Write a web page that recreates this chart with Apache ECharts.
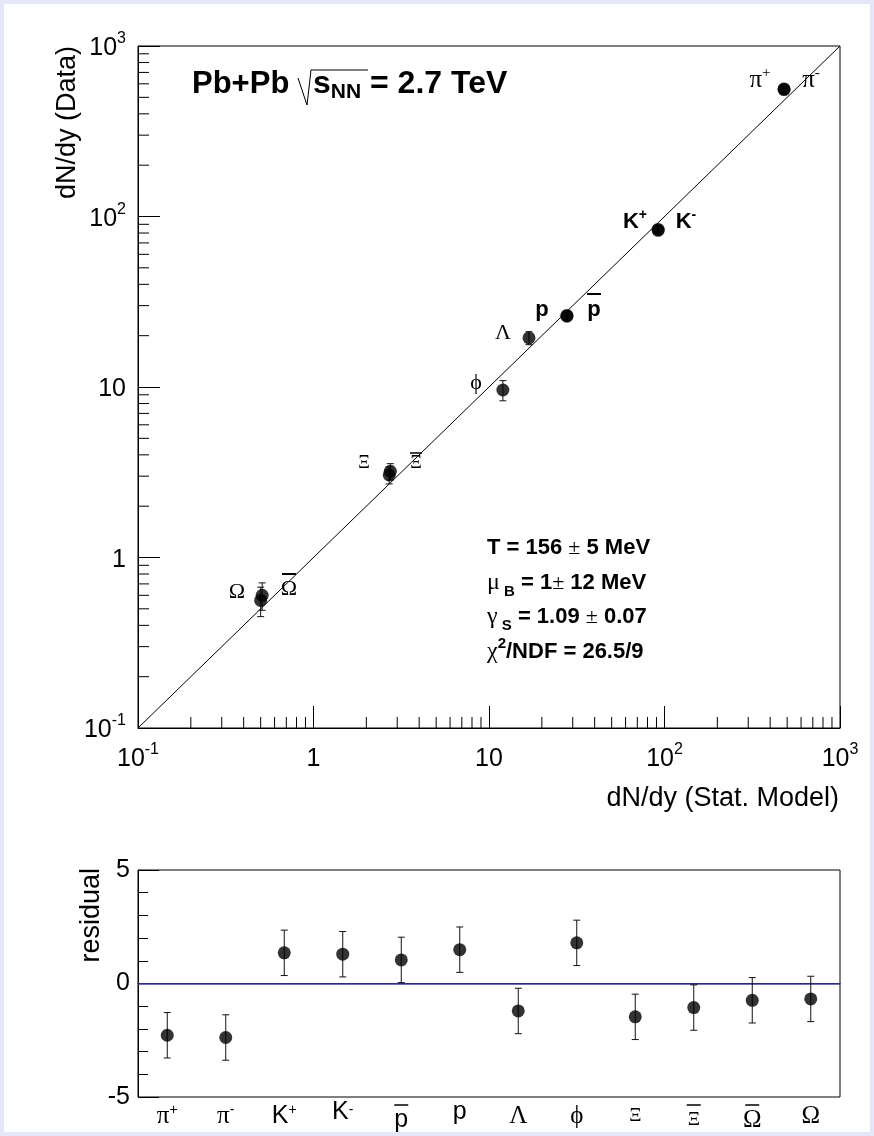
<!DOCTYPE html>
<html>
<head>
<meta charset="utf-8">
<script src="https://cdn.jsdelivr.net/npm/echarts@6/dist/echarts.min.js"></script>
<style>
html,body{margin:0;padding:0;background:#e6e6fa;}
#pad{position:absolute;left:4px;top:4px;width:866px;height:1128px;background:#fff;}
#chart{position:absolute;left:0;top:0;width:874px;height:1136px;}
</style>
</head>
<body>
<div id="pad"></div>
<div id="chart"></div>
<script>
// ---------------- data ----------------
const particles = ['pi+','pi-','K+','K-','pbar','p','Lambda','phi','Xi','Xibar','Omegabar','Omega'];
const modelYield = [480, 480, 92, 92, 27.8, 27.8, 16.9, 12.0, 2.70, 2.74, 0.50, 0.51];
const dataYield  = [560, 555, 84, 83, 26.0, 26.3, 19.4, 9.6, 3.05, 3.2, 0.56, 0.60];
const dataErr    = [25, 25, 4, 4, 1.5, 1.5, 1.7, 1.3, 0.35, 0.35, 0.11, 0.11];
const residual   = [-2.28, -2.38, 1.35, 1.29, 1.04, 1.49, -1.21, 1.79, -1.47, -1.06, -0.74, -0.68];
const residualErr= [1, 1, 1, 1, 1, 1, 1, 1, 1, 1, 1, 1];
const diagonal   = [[0.1, 0.1], [1000, 1000]];
const minorTickValues = [0.2,0.3,0.4,0.5,0.6,0.7,0.8,0.9, 2,3,4,5,6,7,8,9, 20,30,40,50,60,70,80,90, 200,300,400,500,600,700,800,900];
const catLabels = ['{gs|π}{sup|+}','{gs|π}{supH|-}','{h|K}{sup|+}','{hH|K}{supH|-}','{bar| }\n{h|p}','{hH|p}','{gs|Λ}','{gs|ϕ}','{gsm|Ξ}','{bar| }\n{gsm|Ξ}','{bar| }\n{gs|Ω}','{gs|Ω}'];

// ---------------- helpers ----------------
const SANS = '"Liberation Sans", Arial, Helvetica, sans-serif';
const SERIF = '"Liberation Serif", "Times New Roman", serif';

function supExp(v){
  const e = Math.round(Math.log10(v));
  if (e === 0) return '{b|1}';
  if (e === 1) return '{b|10}';
  return '{b|10}{s|' + e + '}';
}
const tickRich = {
  b: {fontSize: 25, fontFamily: SANS, color: '#000', lineHeight: 30, verticalAlign: 'bottom'},
  s: {fontSize: 16, fontFamily: SANS, color: '#000', verticalAlign: 'top', lineHeight: 30}
};

function errRender(params, api){
  const x = api.value(0), lo = api.value(2), hi = api.value(3);
  const a = api.coord([x, lo]), b = api.coord([x, hi]);
  const cap = 3.5, st = {stroke: '#111', lineWidth: 1};
  return {type: 'group', children: [
    {type: 'line', shape: {x1: a[0], y1: a[1], x2: b[0], y2: b[1]}, style: st},
    {type: 'line', shape: {x1: a[0]-cap, y1: a[1], x2: a[0]+cap, y2: a[1]}, style: st},
    {type: 'line', shape: {x1: b[0]-cap, y1: b[1], x2: b[0]+cap, y2: b[1]}, style: st}
  ]};
}
function xMinorRender(params, api){
  const p = api.coord([api.value(0), api.value(1)]);
  return {type: 'line', shape: {x1: p[0], y1: p[1], x2: p[0], y2: p[1]-11}, style: {stroke: '#000', lineWidth: 1}};
}
function yMinorRender(params, api){
  const p = api.coord([api.value(0), api.value(1)]);
  return {type: 'line', shape: {x1: p[0], y1: p[1], x2: p[0]+11, y2: p[1]}, style: {stroke: '#000', lineWidth: 1}};
}

const topPoints = modelYield.map((m, i) => [m, dataYield[i]]);
const topErr = modelYield.map((m, i) => [m, dataYield[i], dataYield[i]-dataErr[i], dataYield[i]+dataErr[i]]);
const resPoints = residual.map((r, i) => [i, r]);
const resErr = residual.map((r, i) => [i, r, r-residualErr[i], r+residualErr[i]]);

function txt(x, y, text, rich, align){
  return {type: 'text', x: x, y: y, silent: true, z: 50,
    style: {text: text, rich: rich, align: align || 'center', textAlign: align || 'center',
            verticalAlign: 'middle', textVerticalAlign: 'middle', fill: '#000'}};
}
function plain(x, y, text, size, align, rot){
  return {type: 'text', x: x, y: y, rotation: rot || 0, silent: true, z: 50,
    style: {text: text, font: size + 'px ' + SANS, align: align, textAlign: align,
            verticalAlign: 'middle', textVerticalAlign: 'middle', fill: '#000'}};
}
const lblRich = {
  g: {fontFamily: SERIF, fontSize: 22, color: '#000', lineHeight: 28},
  gp: {fontFamily: SERIF, fontSize: 25, color: '#000', lineHeight: 28},
  gsm: {fontFamily: SERIF, fontSize: 18, color: '#000'},
  sup: {fontFamily: SERIF, fontSize: 15, color: '#000', verticalAlign: 'top', lineHeight: 28},
  bs: {fontFamily: SANS, fontSize: 22, fontWeight: 'bold', color: '#000', lineHeight: 28},
  bsup: {fontFamily: SANS, fontSize: 14, fontWeight: 'bold', color: '#000', verticalAlign: 'top', lineHeight: 28},
  bar: {width: 14, height: 2, backgroundColor: '#000', lineHeight: 3},
  barS: {width: 12, height: 1.5, backgroundColor: '#000', lineHeight: 3}
};
const statRich = {
  b: {fontFamily: SANS, fontSize: 22, fontWeight: 'bold', color: '#000', lineHeight: 32, verticalAlign: 'middle'},
  n: {fontFamily: SERIF, fontSize: 22, color: '#000', lineHeight: 32, verticalAlign: 'middle'},
  g: {fontFamily: SERIF, fontSize: 24, color: '#000', lineHeight: 32, verticalAlign: 'middle'},
  sub: {fontFamily: SANS, fontSize: 15, fontWeight: 'bold', color: '#000', lineHeight: 32, verticalAlign: 'bottom'},
  sup: {fontFamily: SANS, fontSize: 15, fontWeight: 'bold', color: '#000', lineHeight: 32, verticalAlign: 'top'}
};

const chart = echarts.init(document.getElementById('chart'), null, {renderer: 'canvas'});
const option = {
  backgroundColor: 'transparent',
  animation: false,
  grid: [
    {left: 138, top: 46, width: 702, height: 682, show: true, borderColor: '#000', borderWidth: 1, backgroundColor: 'transparent'},
    {left: 138, top: 870, width: 702, height: 227, show: true, borderColor: '#000', borderWidth: 1, backgroundColor: 'transparent'}
  ],
  xAxis: [
    {type: 'log', logBase: 10, min: 0.1, max: 1000, gridIndex: 0,
     axisLine: {lineStyle: {color: '#000', width: 1}},
     axisTick: {inside: true, length: 22, lineStyle: {color: '#000'}},
     splitLine: {show: false},
     axisLabel: {margin: 14, formatter: supExp, rich: tickRich, color: '#000'}},
    {type: 'category', gridIndex: 1, data: catLabels, boundaryGap: true,
     axisLine: {lineStyle: {color: '#000', width: 1}},
     axisTick: {inside: true, length: 10, alignWithLabel: true, lineStyle: {color: '#000'}},
     splitLine: {show: false},
     axisLabel: {interval: 0, margin: 6, formatter: (v) => v, color: '#000',
       rich: {
         gs: {fontFamily: SERIF, fontSize: 25, color: '#000', lineHeight: 26},
         gsm: {fontFamily: SERIF, fontSize: 19, color: '#000', lineHeight: 26},
         h: {fontFamily: SANS, fontSize: 25, color: '#000', lineHeight: 26},
         hH: {fontFamily: SANS, fontSize: 25, color: '#000', lineHeight: 26, padding: [0, 0, 8, 0]},
         sup: {fontFamily: SANS, fontSize: 14, color: '#000', verticalAlign: 'top', lineHeight: 26},
         supH: {fontFamily: SANS, fontSize: 14, color: '#000', verticalAlign: 'top', lineHeight: 26, padding: [0, 0, 8, 0]},
         bar: {width: 14, height: 1.5, backgroundColor: '#000', lineHeight: 4}
       }}}
  ],
  yAxis: [
    {type: 'log', logBase: 10, min: 0.1, max: 1000, gridIndex: 0,
     axisLine: {lineStyle: {color: '#000', width: 1}},
     axisTick: {inside: true, length: 22, lineStyle: {color: '#000'}},
     splitLine: {show: false},
     axisLabel: {margin: 12, formatter: supExp, rich: tickRich, color: '#000'}},
    {type: 'value', gridIndex: 1, min: -5, max: 5, interval: 5,
     axisLine: {show: true, lineStyle: {color: '#000', width: 1}},
     axisTick: {show: true, inside: true, length: 21, lineStyle: {color: '#000'}},
     minorTick: {show: true, splitNumber: 5, length: 10, lineStyle: {color: '#000'}},
     splitLine: {show: false},
     axisLabel: {margin: 8, fontFamily: SANS, fontSize: 25, color: '#000'}}
  ],
  series: [
    {type: 'line', xAxisIndex: 0, yAxisIndex: 0, data: diagonal, showSymbol: false, symbol: 'none',
     lineStyle: {color: '#000', width: 1}, z: 3, silent: true},
    {type: 'custom', xAxisIndex: 0, yAxisIndex: 0, data: minorTickValues.map(v => [v, 0.1]), renderItem: xMinorRender, clip: false, silent: true, z: 4},
    {type: 'custom', xAxisIndex: 0, yAxisIndex: 0, data: minorTickValues.map(v => [0.1, v]), renderItem: yMinorRender, clip: false, silent: true, z: 4},
    {type: 'custom', xAxisIndex: 0, yAxisIndex: 0, data: topErr, renderItem: errRender, silent: true, z: 5, encode: {x: 0, y: 1}},
    {type: 'scatter', xAxisIndex: 0, yAxisIndex: 0, data: topPoints, symbol: 'circle', symbolSize: 13,
     itemStyle: {color: '#000'}, z: 6, silent: true},
    {type: 'custom', xAxisIndex: 1, yAxisIndex: 1, data: resErr, renderItem: errRender, silent: true, z: 5, encode: {x: 0, y: 1}},
    {type: 'scatter', xAxisIndex: 1, yAxisIndex: 1, data: resPoints, symbol: 'circle', symbolSize: 13,
     itemStyle: {color: '#000'}, z: 6, silent: true,
     markLine: {silent: true, symbol: 'none', label: {show: false},
       lineStyle: {color: '#3c3cab', width: 1.5, type: 'solid'}, data: [{yAxis: 0}], z: 2}}
  ],
  graphic: [
    // title
    txt(192, 84, '{b|Pb+Pb}', {b: {fontFamily: SANS, fontSize: 31, fontWeight: 'bold', color: '#000'}}, 'left'),
    {type: 'polyline', silent: true, z: 50, shape: {points: [[298, 78], [307, 105], [311, 70], [368, 70]]}, style: {stroke: '#000', lineWidth: 1, fill: null}},
    txt(313, 84, '{b|s}{sub|NN}{b| = 2.7 TeV}', {
      b: {fontFamily: SANS, fontSize: 32, fontWeight: 'bold', color: '#000', lineHeight: 38, verticalAlign: 'middle'},
      sub: {fontFamily: SANS, fontSize: 21, fontWeight: 'bold', color: '#000', lineHeight: 38, verticalAlign: 'bottom'}
    }, 'left'),
    // particle labels in the top panel
    txt(760, 80, '{gp|π}{sup|+}', lblRich),
    txt(811, 80, '{gp|π}{sup|-}', lblRich),
    txt(635, 222, '{bs|K}{bsup|+}', lblRich),
    txt(686, 222, '{bs|K}{bsup|-}', lblRich),
    txt(542, 310, '{bs|p}', lblRich),
    txt(594, 308, '{bar| }\n{bs|p}', lblRich),
    txt(503, 333, '{g|Λ}', lblRich),
    txt(476, 383, '{g|ϕ}', lblRich),
    txt(364, 463, '{gsm|Ξ}', lblRich),
    txt(416, 462, '{barS| }\n{gsm|Ξ}', lblRich),
    txt(237, 592, '{g|Ω}', lblRich),
    txt(289, 588, '{bar| }\n{g|Ω}', lblRich),
    // fit results
    txt(487, 548, '{b|T = 156 }{n|±}{b| 5 MeV}', statRich, 'left'),
    txt(487, 583, '{g|μ}{sub| B}{b| = 1}{n|±}{b| 12 MeV}', statRich, 'left'),
    txt(487, 617, '{g|γ}{sub| S}{b| = 1.09 }{n|±}{b| 0.07}', statRich, 'left'),
    txt(487, 652, '{g|χ}{sup|2}{b|/NDF = 26.5/9}', statRich, 'left'),
    // axis titles
    plain(839, 799, 'dN/dy (Stat. Model)', 27, 'right', 0),
    plain(68, 46, 'dN/dy (Data)', 27, 'right', Math.PI/2),
    plain(92, 868, 'residual', 27, 'right', Math.PI/2)
  ]
};
chart.setOption(option);
</script>
</body>
</html>
